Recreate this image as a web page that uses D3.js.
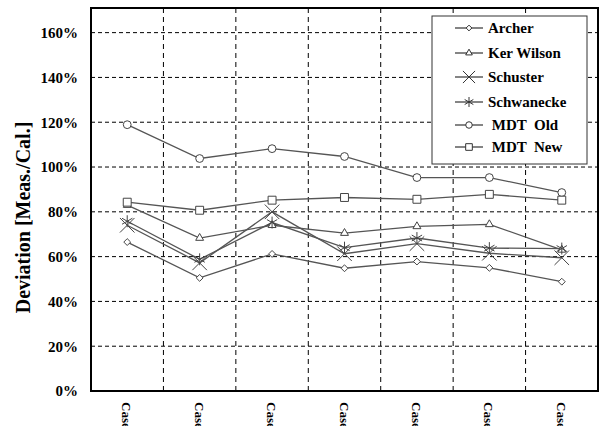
<!DOCTYPE html>
<html lang="en">
<head>
  <meta charset="UTF-8">
  <title>Deviation by Case</title>
  <style>
    body { margin: 0; background: #fff; }
  </style>
  <script src="https://d3js.org/d3.v7.min.js"></script>
</head>
<body>
  <div id="chart"></div>
  <script>
    // values
    const cases = ["Case 1", "Case 2", "Case 3", "Case 4", "Case 5", "Case 6", "Case 7"];
    const yTicks = [0, 0.2, 0.4, 0.6, 0.8, 1.0, 1.2, 1.4, 1.6];

    const archer     = [0.665, 0.505, 0.612, 0.548, 0.578, 0.550, 0.488];
    const kerWilson  = [0.830, 0.683, 0.740, 0.705, 0.735, 0.744, 0.630];
    const schuster   = [0.740, 0.572, 0.800, 0.613, 0.658, 0.615, 0.595];
    const schwanecke = [0.758, 0.588, 0.752, 0.640, 0.683, 0.638, 0.636];
    const mdtOld     = [1.189, 1.038, 1.082, 1.047, 0.953, 0.953, 0.886];
    const mdtNew     = [0.843, 0.807, 0.852, 0.864, 0.856, 0.878, 0.852];

    const series = [
      {name: "Archer", values: archer, symbol: d3.symbolDiamond2, size: 30},
      {name: "Ker Wilson", values: kerWilson, symbol: d3.symbolTriangle2, size: 45},
      {name: "Schuster", values: schuster, symbol: d3.symbolTimes, size: 140},
      {name: "Schwanecke", values: schwanecke, symbol: d3.symbolAsterisk, size: 100},
      {name: " MDT  Old", values: mdtOld, symbol: d3.symbolCircle, size: 48},
      {name: " MDT  New", values: mdtNew, symbol: d3.symbolSquare2, size: 80}
    ];

    const FONT = "'Liberation Serif', Tinos, 'Times New Roman', 'DejaVu Serif', serif";
    const W = 600, H = 426;
    const plot = {left: 91, right: 598, top: 8, bottom: 391};

    const svg = d3.select("#chart").append("svg")
      .attr("width", W)
      .attr("height", H)
      .attr("font-family", FONT)
      .attr("font-weight", "bold");

    const x = d3.scaleBand()
      .domain(cases)
      .range([plot.left, plot.right])
      .padding(0);

    const y = d3.scaleLinear()
      .domain([0, 1.71])
      .range([plot.bottom, plot.top]);

    const cx = c => x(c) + x.bandwidth() / 2;

    // grid
    svg.append("g")
      .selectAll("line")
      .data(yTicks.filter(d => d > 0))
      .join("line")
      .attr("x1", plot.left).attr("x2", plot.right)
      .attr("y1", d => y(d)).attr("y2", d => y(d))
      .attr("stroke", "#000")
      .attr("stroke-width", 1)
      .attr("stroke-dasharray", "4,3");

    svg.append("g")
      .selectAll("line")
      .data(cases.slice(1))
      .join("line")
      .attr("x1", d => x(d)).attr("x2", d => x(d))
      .attr("y1", plot.top).attr("y2", plot.bottom)
      .attr("stroke", "#000")
      .attr("stroke-width", 1)
      .attr("stroke-dasharray", "5,4");

    // y axis labels
    const yAxis = svg.append("g")
      .attr("transform", `translate(${plot.left},0)`)
      .call(d3.axisLeft(y).tickValues(yTicks).tickFormat(d3.format(".0%")).tickSize(0).tickPadding(13));
    yAxis.attr("font-family", FONT).attr("font-size", 15);
    yAxis.select(".domain").remove();
    yAxis.selectAll("text")
      .attr("fill", "#000")
      .attr("font-weight", "bold");

    // x axis labels, rotated (cut by the bottom edge, as in the original)
    svg.append("g")
      .selectAll("text")
      .data(cases)
      .join("text")
      .attr("transform", d => `translate(${cx(d) - 5},${plot.bottom + 11}) rotate(90)`)
      .attr("font-size", 13)
      .attr("fill", "#000")
      .text(d => d);

    // y title
    svg.append("text")
      .attr("transform", `translate(30,${(plot.top + plot.bottom) / 2 + 18}) rotate(-90)`)
      .attr("text-anchor", "middle")
      .attr("font-size", 20)
      .attr("fill", "#000")
      .text("Deviation [Meas./Cal.]");

    // lines
    const line = d3.line()
      .x((d, i) => cx(cases[i]))
      .y(d => y(d));

    series.forEach(s => {
      svg.append("path")
        .datum(s.values)
        .attr("fill", "none")
        .attr("stroke", "#555")
        .attr("stroke-width", 1.3)
        .attr("d", line);
    });

    const openFill = s => (s.symbol === d3.symbolTimes || s.symbol === d3.symbolAsterisk) ? "none" : "#fff";

    series.forEach(s => {
      svg.append("g")
        .selectAll("path")
        .data(s.values)
        .join("path")
        .attr("transform", (d, i) => `translate(${cx(cases[i])},${y(d)})`)
        .attr("d", d3.symbol(s.symbol, s.size))
        .attr("fill", openFill(s))
        .attr("stroke", "#444")
        .attr("stroke-width", 1);
    });

    // plot frame
    svg.append("rect")
      .attr("x", plot.left).attr("y", plot.top)
      .attr("width", plot.right - plot.left)
      .attr("height", plot.bottom - plot.top)
      .attr("fill", "none")
      .attr("stroke", "#000")
      .attr("stroke-width", 2);

    // legend
    const lg = svg.append("g");
    lg.append("rect")
      .attr("x", 432).attr("y", 16)
      .attr("width", 155).attr("height", 148)
      .attr("fill", "#fff")
      .attr("stroke", "#333")
      .attr("stroke-width", 1);

    const legendY = [28, 53, 77, 102, 125, 147];
    series.forEach((s, i) => {
      const ly = legendY[i];
      lg.append("line")
        .attr("x1", 455).attr("x2", 483)
        .attr("y1", ly).attr("y2", ly)
        .attr("stroke", "#333")
        .attr("stroke-width", 1.2);
      lg.append("path")
        .attr("transform", `translate(469,${ly})`)
        .attr("d", d3.symbol(s.symbol, s.size * 0.7))
        .attr("fill", openFill(s))
        .attr("stroke", "#333")
        .attr("stroke-width", 1);
      lg.append("text")
        .attr("x", 488)
        .attr("y", ly + 5)
        .attr("font-size", 15)
        .attr("fill", "#000")
        .style("white-space", "pre")
        .text(s.name);
    });
  </script>
</body>
</html>
